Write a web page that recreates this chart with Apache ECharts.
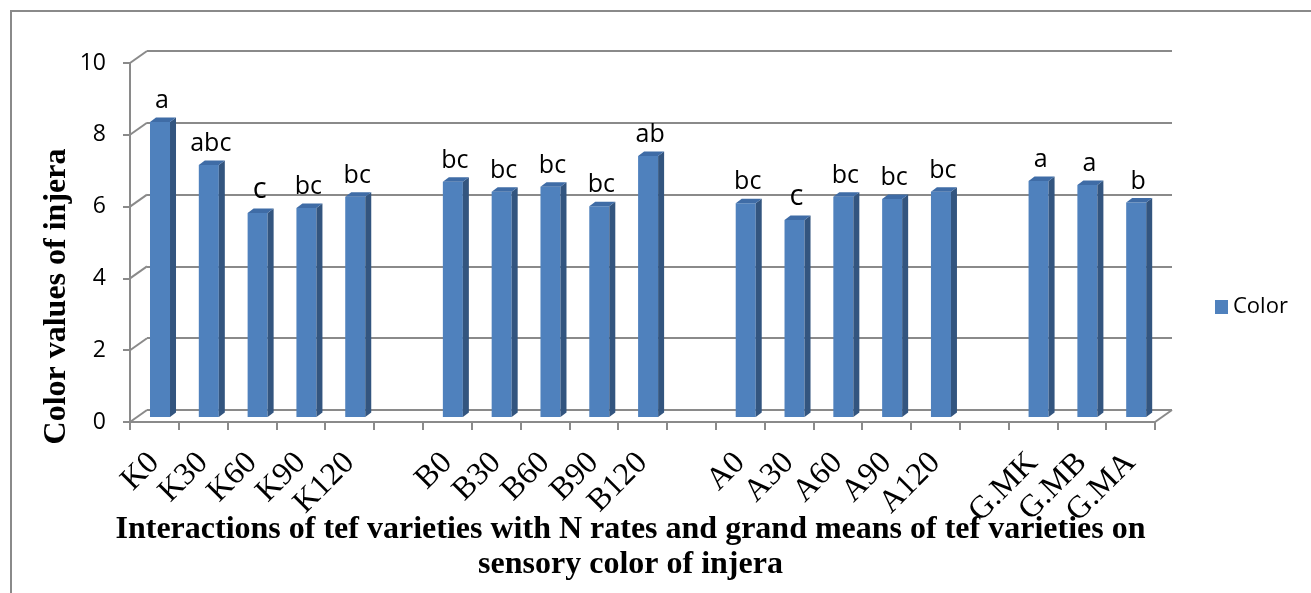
<!DOCTYPE html>
<html>
<head>
<meta charset="utf-8">
<script src="https://cdn.jsdelivr.net/npm/echarts@6/dist/echarts.min.js"></script>
<style>
html,body{margin:0;padding:0;background:#fff;}
#chart{width:1311px;height:593px;}
</style>
</head>
<body>
<div id="chart"></div>
<script>
// ---- data ----
var categories = ['K0','K30','K60','K90','K120','','B0','B30','B60','B90','B120','','A0','A30','A60','A90','A120','','G.MK','G.MB','G.MA'];
var colorValues = [8.24,7.04,5.70,5.84,6.15,null,6.57,6.29,6.43,5.89,7.29,null,5.97,5.50,6.15,6.09,6.29,null,6.59,6.48,5.99];
var letters = ['a','abc','c','bc','bc','','bc','bc','bc','bc','ab','','bc','c','bc','bc','bc','','a','a','b'];
var yTicks = [0,2,4,6,8,10];

var GRAY = '#8a8a8a';
var FRONT = '#4F81BD', SIDE = '#33557F', TOP = '#3F6CA6';
var DX = 17, DY = -12;     // depth of the back wall
var BDX = 6, BDY = -4.5;   // depth of each bar

var chart = echarts.init(document.getElementById('chart'));

var barData = colorValues.map(function (v, i) { return [i, v, letters[i]]; });

var option = {
  animation: false,
  backgroundColor: '#fff',
  graphic: [{
    type: 'rect', silent: true, z: -10,
    shape: {x: 11, y: 11, width: 1400, height: 700},
    style: {fill: 'none', stroke: GRAY, lineWidth: 2}
  }],
  legend: {
    data: ['Color'],
    left: 1210, top: 291,
    orient: 'vertical',
    icon: 'rect', itemWidth: 13, itemHeight: 14, itemGap: 8,
    textStyle: {fontFamily: 'Open Sans', fontSize: 22, color: '#000'}
  },
  grid: [
    {left: 130, top: 63, width: 1025, height: 359, outerBoundsMode: 'none', containLabel: false},
    {left: 147, top: 51, width: 1025, height: 359, outerBoundsMode: 'none', containLabel: false},
    {left: 135.6, top: 59, width: 1025, height: 358, outerBoundsMode: 'none', containLabel: false}
  ],
  xAxis: [
    {
      gridIndex: 0, type: 'category', data: categories,
      axisLine: {lineStyle: {color: GRAY, width: 2}},
      axisTick: {show: true, length: 8, lineStyle: {color: GRAY, width: 2}},
      axisLabel: {interval: 0, rotate: 45, margin: 36, color: '#000',
                  fontFamily: 'Liberation Serif', fontSize: 32},
      name: 'Interactions of tef varieties with N rates and grand means of tef varieties on\nsensory color of injera',
      nameLocation: 'middle', nameGap: 90, nameMoveOverlap: false,
      nameTextStyle: {fontFamily: 'Liberation Serif', fontWeight: 'bold', fontSize: 32,
                      color: '#000', lineHeight: 35, padding: [0, 24, 0, 0]}
    },
    {gridIndex: 1, type: 'category', data: categories, show: false},
    {gridIndex: 2, type: 'category', data: categories, show: false}
  ],
  yAxis: [
    {
      gridIndex: 0, type: 'value', min: 0, max: 10, interval: 2,
      axisLine: {show: true, lineStyle: {color: GRAY, width: 2}},
      axisTick: {show: true, length: 7, lineStyle: {color: GRAY, width: 2}},
      axisLabel: {margin: 24, color: '#000', fontFamily: 'Open Sans', fontSize: 23},
      splitLine: {show: false},
      name: 'Color values of injera', nameLocation: 'middle', nameGap: 57, nameMoveOverlap: false,
      nameTextStyle: {fontFamily: 'Liberation Serif', fontWeight: 'bold', fontSize: 32, color: '#000',
                      padding: [0, 108, 0, 0]}
    },
    {
      gridIndex: 1, type: 'value', min: 0, max: 10, interval: 2,
      axisLine: {show: false}, axisTick: {show: false}, axisLabel: {show: false},
      splitLine: {show: true, lineStyle: {color: GRAY, width: 2}}
    },
    {gridIndex: 2, type: 'value', min: 0, max: 10, interval: 2, show: false, splitLine: {show: false}}
  ],
  series: [
    {
      name: 'connectors', type: 'custom', xAxisIndex: 0, yAxisIndex: 0, silent: true,
      data: yTicks.map(function (v) { return [0, v]; }),
      renderItem: function (params, api) {
        var p = api.coord([0, api.value(1)]);
        var w = api.size([1, 0])[0];
        var x0 = p[0] - w / 2;
        var children = [{
          type: 'line',
          shape: {x1: x0, y1: p[1], x2: x0 + DX, y2: p[1] + DY},
          style: {stroke: GRAY, lineWidth: 2}
        }];
        if (api.value(1) === 0) {
          var x1 = x0 + w * categories.length;
          children.push({
            type: 'line',
            shape: {x1: x1, y1: p[1], x2: x1 + DX, y2: p[1] + DY},
            style: {stroke: GRAY, lineWidth: 2}
          });
        }
        return {type: 'group', children: children};
      }
    },
    {
      name: 'Color', type: 'custom', xAxisIndex: 2, yAxisIndex: 2, z: 5,
      itemStyle: {color: FRONT},
      data: barData,
      renderItem: function (params, api) {
        var v = api.value(1);
        if (v == null || isNaN(v)) return null;
        var top = api.coord([api.value(0), v]);
        var base = api.coord([api.value(0), 0]);
        var w = api.size([1, 0])[0] * 0.41;
        var xl = top[0] - w / 2, xr = top[0] + w / 2;
        var yt = top[1], yb = base[1];
        var lab = letters[params.dataIndex];
        return {
          type: 'group',
          children: [
            {type: 'rect', shape: {x: xl, y: yt, width: w, height: yb - yt},
             style: {fill: FRONT}},
            {type: 'polygon', shape: {points: [[xr, yt], [xr + BDX, yt + BDY], [xr + BDX, yb + BDY], [xr, yb]]},
             style: {fill: SIDE}},
            {type: 'polygon', shape: {points: [[xl, yt], [xl + BDX, yt + BDY], [xr + BDX, yt + BDY], [xr, yt]]},
             style: {fill: TOP}},
            {type: 'text', style: {
              text: lab, x: top[0] + 2, y: yt + BDY - 4,
              align: 'center', verticalAlign: 'bottom',
              fontFamily: 'Open Sans', fontSize: lab === 'c' ? 29 : 25, fill: '#000'
            }}
          ]
        };
      }
    }
  ]
};
chart.setOption(option);
</script>
</body>
</html>
